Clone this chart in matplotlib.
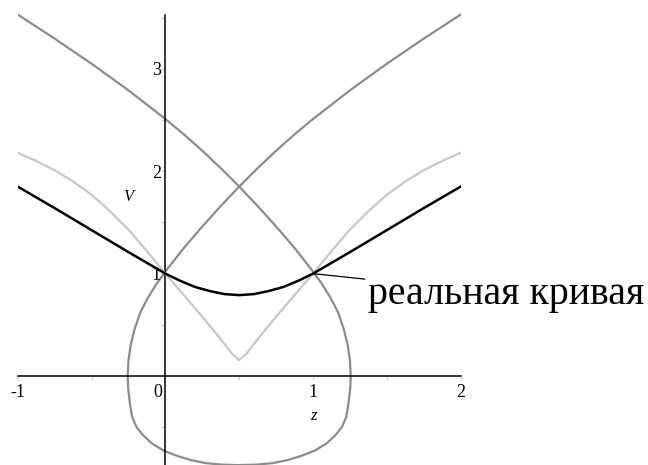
import matplotlib
matplotlib.use("Agg")
import matplotlib.pyplot as plt

# Black curve ("real curve")
black_z = [-1.0, -0.75, -0.5, -0.25, 0.0, 0.1, 0.2, 0.3, 0.4, 0.5, 0.6, 0.7, 0.8, 0.9, 1.0, 1.25, 1.5, 1.75, 2.0]
black_v = [1.85, 1.64, 1.425, 1.21, 1.0, 0.93, 0.87, 0.83, 0.80, 0.79, 0.80, 0.83, 0.87, 0.93, 1.0, 1.21, 1.425, 1.64, 1.85]

# Light grey V-shaped curve
light_z = [-1.0, -0.875, -0.75, -0.625, -0.5, -0.375, -0.25, -0.125, 0.0, 0.125, 0.25, 0.375, 0.45, 0.5,
           0.55, 0.625, 0.75, 0.875, 1.0, 1.125, 1.25, 1.375, 1.5, 1.625, 1.75, 1.875, 2.0]
light_v = [2.18, 2.10, 2.01, 1.90, 1.77, 1.61, 1.43, 1.22, 1.0, 0.79, 0.58, 0.36, 0.22, 0.155,
           0.22, 0.36, 0.58, 0.79, 1.0, 1.22, 1.43, 1.61, 1.77, 1.90, 2.01, 2.10, 2.18]

# Dark grey teardrop curve (one continuous path)
dark_z = [-1.0, -0.75, -0.5, -0.25, 0.0, 0.125, 0.25, 0.375, 0.5, 0.625, 0.75, 0.875, 1.0, 1.06, 1.12, 1.17, 1.21, 1.235, 1.25, 1.255,
          1.252, 1.24, 1.225, 1.195, 1.15, 1.09, 1.01, 0.92, 0.83, 0.73, 0.62, 0.5,
          0.38, 0.27, 0.17, 0.08, -0.01, -0.09, -0.15, -0.195, -0.225, -0.24, -0.252,
          -0.255, -0.25, -0.235, -0.21, -0.17, -0.12, -0.06, 0.0, 0.125, 0.25, 0.375, 0.5, 0.625, 0.75, 0.875,
          1.0, 1.25, 1.5, 1.75, 2.0]
dark_v = [3.53, 3.295, 3.05, 2.79, 2.51, 2.36, 2.20, 2.03, 1.85, 1.66, 1.46, 1.25, 1.02, 0.90, 0.76, 0.62, 0.45, 0.30, 0.15, 0.0,
          -0.12, -0.27, -0.40, -0.50, -0.58, -0.66, -0.73, -0.78, -0.82, -0.85, -0.865, -0.87,
          -0.865, -0.85, -0.82, -0.78, -0.73, -0.66, -0.58, -0.50, -0.40, -0.27, -0.12,
          0.0, 0.15, 0.30, 0.45, 0.62, 0.76, 0.90, 1.02, 1.25, 1.46, 1.66, 1.85, 2.03, 2.20, 2.36,
          2.51, 2.79, 3.05, 3.295, 3.53]

x_ticks = [-1, 0, 1, 2]
x_tick_labels = ["-1", "0", "1", "2"]
y_ticks = [1, 2, 3]
y_tick_labels = ["1", "2", "3"]
minor_x = [-0.5, 0.5, 1.5]
minor_y = [-0.5, 0.5, 1.5, 2.5, 3.5]

fig = plt.figure(figsize=(6.48, 4.65), dpi=100)
ax = fig.add_axes([17.7 / 648, 0.0, 443.0 / 648, 1.0])
ax.set_xlim(-1, 2)
ax.set_ylim(-0.869, 3.672)
ax.patch.set_alpha(0)

for s in ["top", "right"]:
    ax.spines[s].set_visible(False)
ax.spines["left"].set_position(("data", 0))
ax.spines["bottom"].set_position(("data", 0))
ax.spines["left"].set_bounds(-0.869, 3.53)
ax.spines["bottom"].set_bounds(-1, 2)
for s in ["left", "bottom"]:
    ax.spines[s].set_linewidth(1.1)
    ax.spines[s].set_color("black")

ax.set_xticks(x_ticks + minor_x)
ax.set_yticks(y_ticks + minor_y)
ax.set_xticklabels([])
ax.set_yticklabels([])
ax.tick_params(axis="both", direction="out", length=3, width=0.8, color="#d0d0d0")

serif = ["Liberation Serif", "DejaVu Serif"]
for t, lab in zip(x_ticks, x_tick_labels):
    dx = -0.05 if t == 0 else 0.0
    ax.text(t + dx, -0.16, lab, ha="center", va="center", fontsize=13, family=serif)
for t, lab in zip(y_ticks, y_tick_labels):
    ax.text(-0.03, t - 0.02, lab, ha="right", va="center", fontsize=13, family=serif)

ax.text(-0.25, 1.75, "V", ha="center", va="center", fontsize=12, family=serif, style="italic")
ax.text(1.0, -0.39, "z", ha="center", va="center", fontsize=12, family=serif, style="italic")

ax.plot(dark_z, dark_v, color="#8c8c8c", lw=1.6, solid_joinstyle="round", zorder=2)
ax.plot(light_z, light_v, color="#c8c8c8", lw=1.6, solid_joinstyle="round", zorder=3)
ax.plot(black_z, black_v, color="black", lw=1.8, solid_joinstyle="round", zorder=4)

ax.annotate("реальная кривая", xy=(1.0, 1.0), xytext=(1.37, 0.8),
            textcoords="data", ha="left", va="center", fontsize=28.7, family=serif,
            arrowprops=dict(arrowstyle="-", color="black", lw=0.9, shrinkA=0, shrinkB=0),
            annotation_clip=False)

fig.savefig("out.png", dpi=100)
